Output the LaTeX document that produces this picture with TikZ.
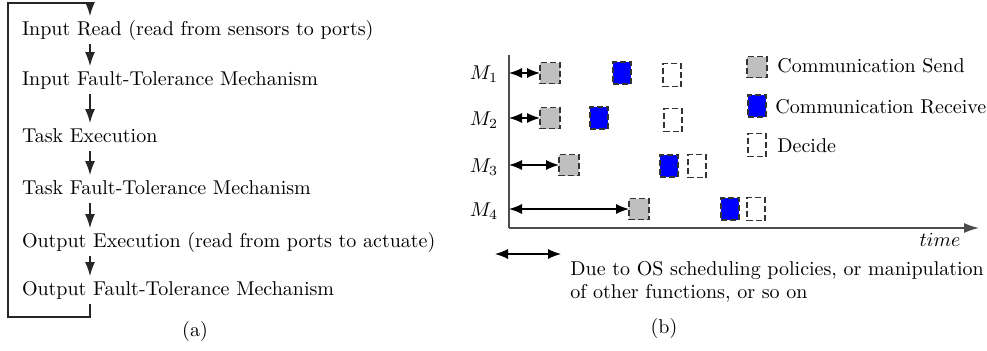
\documentclass[tikz,border=0pt]{standalone}
\usetikzlibrary{arrows.meta,calc}
\begin{document}
\begin{tikzpicture}[x=0.5pt,y=-0.5pt,
  txta/.style={anchor=base west, inner xsep=0pt, inner ysep=2pt, outer sep=0pt, text height=7.5pt, text depth=2.5pt},
  txt/.style={anchor=base west, inner sep=0pt},
  flow/.style={draw=black!85, line width=0.6pt},
  arra/.style={flow, -{Latex[length=7pt,width=5pt]}},
  darr/.style={draw=black, line width=0.6pt, {Latex[length=6.5pt,width=5pt]}-{Latex[length=6.5pt,width=5pt]}},
  axisline/.style={draw=black!70, line width=0.7pt},
  boxb/.style={draw=black!80, line width=0.6pt, dash pattern=on 3pt off 1.5pt, inner sep=0pt, outer sep=0pt},
  sendbox/.style={boxb, fill=lightgray, minimum width=10pt, minimum height=10.5pt},
  recvbox/.style={boxb, fill=blue, minimum width=9pt, minimum height=11pt},
  decbox/.style={boxb, minimum width=9pt, minimum height=11.5pt},
  captxt/.style={anchor=base, inner sep=0pt}
]
\useasboundingbox (0,0) rectangle (987,350);

% ---------- panel (a) ----------
\coordinate (ax) at (90,0);
\coordinate (lt) at (8,3);
\coordinate (lb) at (8,317);
\node[txta] (a1) at (22,35) {Input Read (read from sensors to ports)};
\node[txta] (a2) at (22,85) {Input Fault-Tolerance Mechanism};
\node[txta] (a3) at (22,142) {Task Execution};
\node[txta] (a4) at (22,194) {Task Fault-Tolerance Mechanism};
\node[txta] (a5) at (22,247) {Output Execution (read from ports to actuate)};
\node[txta] (a6) at (22,295) {Output Fault-Tolerance Mechanism};
\draw[arra] (a6.south -| ax) -- (lb -| ax) -- (lb) -- (lt) -- (lt -| ax) -- (a1.north -| ax);
\draw[arra] (a1.south -| ax) -- (a2.north -| ax);
\draw[arra] (a2.south -| ax) -- (a3.north -| ax);
\draw[arra] (a3.south -| ax) -- (a4.north -| ax);
\draw[arra] (a4.south -| ax) -- (a5.north -| ax);
\draw[arra] (a5.south -| ax) -- (a6.north -| ax);
\node[captxt] (capa) at (195,336) {(a)};

% ---------- panel (b) ----------
\coordinate (o) at (509,228);
\coordinate (ytop) at (509,55);
\coordinate (xend) at (979,228);
\draw[axisline] (ytop) -- (o);
\draw[axisline, -{Latex[length=7.5pt,width=5pt]}] (o) -- (xend);
\node (time) at (940,240) {$time$};

\node (m1) at (484,74) {$M_1$};
\node (m2) at (484,120) {$M_2$};
\node (m3) at (484,167) {$M_3$};
\node (m4) at (484,211) {$M_4$};

\node[sendbox] (s1) at (550,73) {};
\node[recvbox] (r1) at (622,73) {};
\node[decbox]  (d1) at (672,75) {};
\node[sendbox] (s2) at (550,118) {};
\node[recvbox] (r2) at (599,118) {};
\node[decbox]  (d2) at (673,120) {};
\node[sendbox] (s3) at (569,165) {};
\node[recvbox] (r3) at (669,166) {};
\node[decbox]  (d3) at (697,166) {};
\node[sendbox] (s4) at (639,209) {};
\node[recvbox] (r4) at (730,209) {};
\node[decbox]  (d4) at (756,209) {};

\draw[darr] (s1.west -| o) -- (s1.west);
\draw[darr] (s2.west -| o) -- (s2.west);
\draw[darr] (s3.west -| o) -- (s3.west);
\draw[darr] (s4.west -| o) -- (s4.west);

% legend
\node[sendbox] (ls) at (757,67) {};
\node[recvbox] (lr) at (757,106) {};
\node[decbox]  (ld) at (757,145) {};
\node[txt] (lst) at (777,72) {Communication Send};
\node[txt] (lrt) at (775,113) {Communication Receive};
\node[txt] (ldt) at (777,152) {Decide};

% bottom note
\coordinate (ba) at (495,254);
\coordinate (bb) at (561,254);
\draw[darr] (ba) -- (bb);
\node[txt] (n1) at (570,275) {Due to OS scheduling policies, or manipulation};
\node[txt] (n2) at (570,298) {of other functions, or so on};
\node[captxt] (capb) at (664,333) {(b)};
\end{tikzpicture}
\end{document}
